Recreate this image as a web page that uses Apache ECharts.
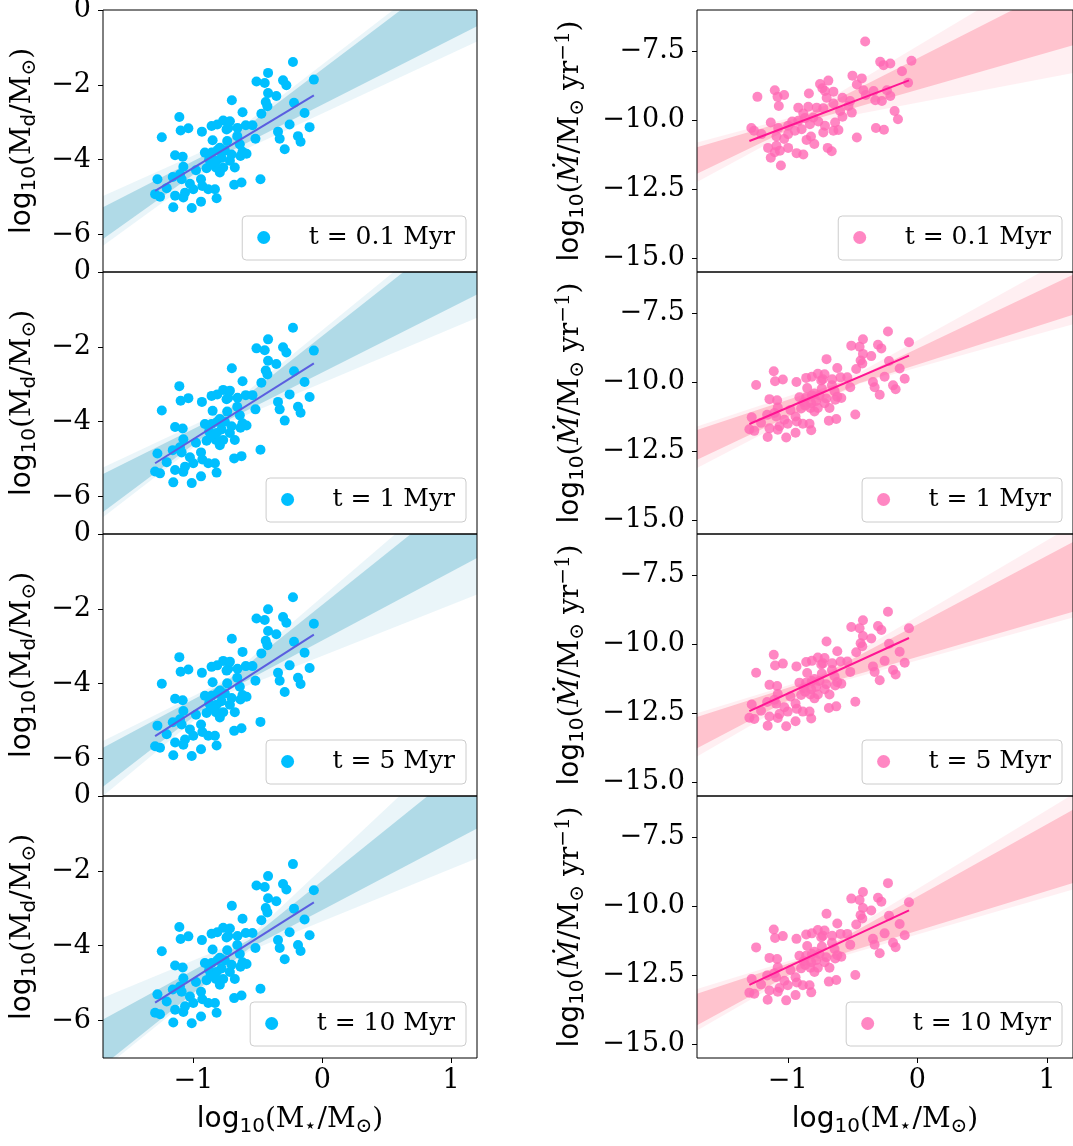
<!DOCTYPE html>
<html>
<head>
<meta charset="utf-8">
<script src="https://cdn.jsdelivr.net/npm/echarts@6/dist/echarts.min.js"></script>
<style>
  html, body { margin: 0; padding: 0; background: #ffffff; }
  #chart { width: 1073px; height: 1146px; }
</style>
</head>
<body>
<div id="chart"></div>
<script>
// ---- Sample: log10 stellar mass of each star (shared by the disk-mass panels and the t >= 1 Myr accretion panels)
const logMstar = [
  -0.227,-0.420,-0.510,-0.446,-0.304,-0.278,-0.065,-0.420,-0.356,-0.438,
  -0.425,-0.219,-0.701,-0.618,-0.472,-0.137,-1.108,-0.768,-0.716,-0.814,
  -0.858,-0.729,-0.657,-0.593,-0.541,-0.253,-0.098,-1.038,-1.098,-0.933,
  -1.244,-0.343,-0.330,-0.188,-0.168,-0.518,-0.659,-0.850,-0.737,-0.639,
  -0.291,-0.794,-0.910,-0.858,-0.755,-0.703,-0.587,-0.634,-1.141,-1.082,
  -0.877,-0.819,-0.716,-1.077,-0.897,-0.825,-0.768,-0.678,-0.979,-1.159,
  -1.090,-1.278,-0.940,-0.479,-0.626,-0.683,-1.026,-0.930,-1.206,-1.000,
  -0.884,-0.832,-1.064,-1.296,-1.141,-1.258,-1.077,-0.819,-0.940,-1.155,
  -1.012,-0.814,-0.781,-0.866,-1.103,-0.794,-0.742,-0.618
];

// ---- log10 disk mass at each epoch
const logMdisk_t01 = [
  -1.39,-1.68,-1.91,-1.95,-1.88,-2.01,-1.86,-2.22,-2.30,-2.46,
  -2.57,-2.48,-2.41,-2.73,-2.77,-2.75,-2.86,-2.95,-2.97,-3.06,
  -3.10,-3.15,-3.15,-3.08,-3.08,-3.06,-3.13,-3.16,-3.22,-3.25,
  -3.40,-3.25,-3.44,-3.37,-3.52,-3.44,-3.37,-3.48,-3.50,-3.59,
  -3.72,-3.68,-3.81,-3.81,-3.75,-3.86,-3.84,-3.90,-3.88,-3.92,
  -3.99,-4.03,-4.03,-4.19,-4.23,-4.21,-4.21,-4.21,-4.28,-4.46,
  -4.52,-4.52,-4.52,-4.52,-4.61,-4.67,-4.64,-4.70,-4.76,-4.79,
  -4.79,-4.79,-4.88,-4.92,-4.96,-4.99,-5.01,-5.03,-5.12,-5.27,
  -5.29,-3.75,-3.95,-4.12,-4.39,-4.34,-3.19,-3.79
];
const logMdisk_t1 = [
  -1.49,-1.80,-2.04,-2.09,-2.01,-2.15,-2.10,-2.37,-2.46,-2.63,
  -2.74,-2.65,-2.57,-2.92,-2.96,-2.94,-3.05,-3.15,-3.17,-3.27,
  -3.31,-3.36,-3.36,-3.29,-3.29,-3.27,-3.34,-3.37,-3.44,-3.47,
  -3.70,-3.47,-3.67,-3.60,-3.76,-3.67,-3.60,-3.71,-3.73,-3.83,
  -3.97,-3.93,-4.06,-4.06,-4.00,-4.12,-4.10,-4.16,-4.14,-4.18,
  -4.26,-4.30,-4.30,-4.47,-4.51,-4.49,-4.49,-4.49,-4.56,-4.76,
  -4.82,-4.85,-4.82,-4.75,-4.92,-4.98,-4.95,-5.01,-5.08,-5.11,
  -5.11,-5.11,-5.20,-5.33,-5.29,-5.38,-5.34,-5.36,-5.46,-5.62,
  -5.64,-4.00,-4.21,-4.39,-4.68,-4.63,-3.40,-4.04
];
const logMdisk_t5 = [
  -1.69,-2.01,-2.26,-2.30,-2.22,-2.37,-2.40,-2.59,-2.68,-2.85,
  -2.97,-2.88,-2.80,-3.15,-3.19,-3.17,-3.29,-3.39,-3.41,-3.51,
  -3.55,-3.60,-3.60,-3.53,-3.53,-3.51,-3.58,-3.62,-3.68,-3.71,
  -4.00,-3.71,-3.92,-3.84,-4.01,-3.92,-3.84,-3.96,-3.99,-4.08,
  -4.22,-4.18,-4.32,-4.32,-4.26,-4.38,-4.35,-4.42,-4.40,-4.44,
  -4.52,-4.56,-4.56,-4.73,-4.78,-4.76,-4.76,-4.76,-4.83,-5.03,
  -5.09,-5.12,-5.09,-5.02,-5.19,-5.26,-5.22,-5.29,-5.35,-5.39,
  -5.39,-5.39,-5.49,-5.67,-5.57,-5.71,-5.63,-5.65,-5.75,-5.91,
  -5.93,-4.26,-4.47,-4.66,-4.95,-4.90,-3.65,-4.30
];
const logMdisk_t10 = [
  -1.82,-2.14,-2.39,-2.43,-2.35,-2.50,-2.52,-2.73,-2.81,-2.99,
  -3.11,-3.01,-2.93,-3.28,-3.32,-3.30,-3.50,-3.52,-3.54,-3.64,
  -3.68,-3.74,-3.74,-3.66,-3.66,-3.64,-3.72,-3.75,-3.82,-3.85,
  -4.15,-3.85,-4.06,-3.98,-4.14,-4.06,-3.98,-4.10,-4.12,-4.22,
  -4.36,-4.32,-4.46,-4.46,-4.39,-4.51,-4.49,-4.56,-4.53,-4.58,
  -4.65,-4.70,-4.70,-4.87,-4.92,-4.89,-4.89,-4.89,-4.97,-5.17,
  -5.23,-5.30,-5.23,-5.15,-5.33,-5.40,-5.36,-5.43,-5.49,-5.53,
  -5.53,-5.53,-5.62,-5.79,-5.71,-5.83,-5.77,-5.79,-5.89,-6.05,
  -6.07,-4.39,-4.61,-4.80,-5.09,-5.04,-3.78,-4.44
];

// ---- log10 accretion rate; the 0.1 Myr epoch has its own star list
const logMstar_acc01 = [
  -0.403,-0.287,-0.261,-0.209,-0.046,-0.119,-0.501,-0.429,-0.467,-0.687,
  -0.751,-0.733,-0.713,-0.648,-0.837,-1.100,-1.028,-1.234,-1.079,-1.069,
  -0.072,-0.416,-0.398,-0.338,-0.325,-0.274,-0.209,-0.235,-0.700,-0.777,
  -0.842,-0.919,-0.880,-0.648,-0.578,-0.519,-0.532,-0.596,-0.506,-0.726,
  -0.803,-0.868,-0.919,-0.966,-1.131,-1.281,-1.260,-1.203,-1.074,-0.997,
  -0.829,-0.764,-0.713,-0.635,-0.578,-0.648,-0.609,-0.726,-0.176,-0.150,
  -0.320,-0.258,-0.467,-1.087,-1.028,-0.997,-0.821,-0.855,-0.795,-1.087,
  -1.152,-1.061,-0.997,-1.100,-1.131,-0.932,-0.880,-0.692,-0.661,-1.053,
  -0.893,-0.945
];
const logMacc_t01 = [
  -7.14,-7.88,-8.00,-7.94,-7.84,-8.22,-8.38,-8.48,-8.70,-8.56,
  -8.68,-8.84,-8.94,-8.96,-9.03,-8.91,-9.08,-9.15,-9.15,-9.48,
  -8.64,-8.91,-9.08,-8.94,-9.27,-9.30,-9.12,-8.91,-9.18,-9.54,
  -9.51,-9.54,-9.75,-9.39,-9.18,-9.30,-9.48,-9.66,-9.72,-9.56,
  -9.90,-9.92,-10.02,-10.04,-10.08,-10.28,-10.38,-10.50,-10.28,-10.20,
  -10.14,-10.04,-10.20,-10.08,-9.87,-10.38,-10.35,-10.44,-9.66,-9.96,
  -10.28,-10.34,-10.62,-10.59,-10.68,-10.50,-10.59,-10.71,-10.86,-10.92,
  -11.00,-11.10,-11.00,-11.16,-11.36,-11.19,-11.24,-11.00,-11.12,-11.64,
  -10.32,-10.38
];
const logMacc_t1 = [
  -8.16,-8.44,-8.67,-8.71,-8.64,-8.77,-8.55,-8.97,-9.05,-9.21,
  -9.32,-9.23,-9.16,-9.48,-9.52,-9.50,-9.60,-9.69,-9.71,-9.80,
  -9.84,-9.89,-9.89,-9.82,-9.82,-9.80,-9.87,-9.90,-9.96,-9.99,
  -10.10,-9.99,-10.18,-10.11,-10.25,-10.18,-10.11,-10.21,-10.23,-10.32,
  -10.45,-10.41,-10.54,-10.54,-10.48,-10.59,-10.57,-10.63,-10.61,-10.65,
  -10.72,-10.76,-10.76,-10.91,-10.95,-10.93,-10.93,-10.93,-11.00,-11.18,
  -11.24,-11.27,-11.24,-11.17,-11.33,-11.39,-11.36,-11.42,-11.47,-11.50,
  -11.50,-11.50,-11.59,-11.70,-11.67,-11.76,-11.72,-11.74,-11.83,-11.98,
  -12.00,-10.48,-10.68,-10.84,-11.11,-11.06,-9.93,-10.52
];
const logMacc_t5 = [
  -8.82,-9.13,-9.37,-9.42,-9.34,-9.48,-9.42,-9.70,-9.79,-9.96,
  -10.07,-9.98,-9.90,-10.25,-10.29,-10.27,-10.38,-10.48,-10.50,-10.60,
  -10.64,-10.69,-10.69,-10.62,-10.62,-10.60,-10.67,-10.70,-10.77,-10.80,
  -11.03,-10.80,-11.00,-10.93,-11.09,-11.00,-10.93,-11.04,-11.06,-11.16,
  -11.30,-11.26,-11.39,-11.39,-11.33,-11.45,-11.43,-11.49,-11.47,-11.51,
  -11.59,-11.63,-11.63,-11.80,-11.84,-11.82,-11.82,-11.82,-11.89,-12.09,
  -12.15,-12.18,-12.15,-12.08,-12.25,-12.31,-12.28,-12.34,-12.41,-12.44,
  -12.44,-12.44,-12.53,-12.66,-12.62,-12.71,-12.67,-12.69,-12.79,-12.95,
  -12.97,-11.33,-11.54,-11.72,-12.01,-11.96,-10.73,-11.37
];
const logMacc_t10 = [
  -9.16,-9.48,-9.72,-9.77,-9.69,-9.83,-9.85,-10.06,-10.15,-10.32,
  -10.44,-10.34,-10.27,-10.62,-10.66,-10.64,-10.84,-10.86,-10.88,-10.98,
  -11.02,-11.07,-11.07,-11.00,-11.00,-10.98,-11.05,-11.08,-11.15,-11.18,
  -11.49,-11.18,-11.39,-11.32,-11.48,-11.39,-11.32,-11.44,-11.46,-11.55,
  -11.70,-11.65,-11.79,-11.79,-11.73,-11.85,-11.83,-11.89,-11.87,-11.91,
  -11.99,-12.03,-12.03,-12.21,-12.25,-12.23,-12.23,-12.23,-12.31,-12.51,
  -12.57,-12.64,-12.57,-12.49,-12.67,-12.73,-12.70,-12.76,-12.83,-12.86,
  -12.86,-12.86,-12.96,-13.13,-13.05,-13.17,-13.10,-13.12,-13.22,-13.39,
  -13.41,-11.73,-11.95,-12.13,-12.43,-12.38,-11.12,-11.77
];

// ---- best-fit relations, as [log M*, value] end points
const fitMdisk_t01 = [[-1.296, -4.83], [-0.065, -2.28]];
const fitMdisk_t1  = [[-1.296, -5.11], [-0.065, -2.44]];
const fitMdisk_t5  = [[-1.296, -5.40], [-0.065, -2.69]];
const fitMdisk_t10 = [[-1.296, -5.52], [-0.065, -2.84]];
const fitMacc_t01  = [[-1.296, -10.75], [-0.065, -8.55]];
const fitMacc_t1   = [[-1.296, -11.51], [-0.065, -9.03]];
const fitMacc_t5   = [[-1.296, -12.42], [-0.065, -9.77]];
const fitMacc_t10  = [[-1.296, -12.85], [-0.065, -10.15]];

// ---- posterior spread of the relation: dense core outline and faint outer outline
const bandMdisk_t01 = [[-1.7,-5.27],[-0.82,-3.72],[1.3,1.80],[1.3,-0.26],[-0.82,-3.96],[-1.7,-6.12]];
const bandMdisk_t1  = [[-1.7,-5.40],[-0.77,-3.80],[1.3,1.82],[1.3,-0.43],[-0.77,-4.02],[-1.7,-6.41]];
const bandMdisk_t5  = [[-1.7,-5.71],[-0.75,-3.96],[1.3,1.69],[1.3,-0.46],[-0.75,-4.22],[-1.7,-6.75]];
const bandMdisk_t10 = [[-1.7,-5.97],[-0.57,-3.85],[1.3,1.34],[1.3,-0.69],[-0.57,-4.08],[-1.7,-7.20]];
const bandMacc_t01  = [[-1.7,-10.98],[-0.88,-9.85],[1.3,-4.65],[1.3,-7.14],[-0.88,-10.08],[-1.7,-11.94]];
const bandMacc_t1   = [[-1.7,-11.73],[-0.45,-9.78],[1.3,-5.88],[1.3,-7.40],[-0.45,-10.03],[-1.7,-12.81]];
const bandMacc_t5   = [[-1.7,-12.64],[-0.80,-11.28],[1.3,-6.04],[1.3,-8.68],[-0.80,-11.55],[-1.7,-13.77]];
const bandMacc_t10  = [[-1.7,-13.17],[-0.83,-11.82],[1.3,-6.24],[1.3,-9.01],[-0.83,-12.08],[-1.7,-14.31]];

const fringeMdisk_t01 = [[-1.7,-4.97],[-0.80,-3.58],[1.3,1.99],[1.3,-0.68],[-0.80,-4.05],[-1.7,-6.30]];
const fringeMdisk_t1  = [[-1.7,-5.22],[-0.77,-3.72],[1.3,2.10],[1.3,-1.08],[-0.77,-4.08],[-1.7,-6.55]];
const fringeMdisk_t5  = [[-1.7,-5.53],[-0.75,-3.90],[1.3,2.17],[1.3,-1.48],[-0.75,-4.28],[-1.7,-7.00]];
const fringeMdisk_t10 = [[-1.7,-5.39],[-0.57,-3.78],[1.3,2.27],[1.3,-1.52],[-0.57,-4.15],[-1.7,-7.30]];
const fringeMacc_t01  = [[-1.7,-10.80],[-0.88,-9.78],[1.3,-3.66],[1.3,-8.19],[-0.88,-10.15],[-1.7,-12.24]];
const fringeMacc_t1   = [[-1.7,-11.60],[-0.45,-9.65],[1.3,-5.10],[1.3,-7.76],[-0.45,-10.05],[-1.7,-13.11]];
const fringeMacc_t5   = [[-1.7,-12.50],[-0.80,-11.20],[1.3,-5.40],[1.3,-8.90],[-0.80,-11.62],[-1.7,-14.07]];
const fringeMacc_t10  = [[-1.7,-13.00],[-0.83,-11.75],[1.3,-5.65],[1.3,-9.25],[-0.83,-12.15],[-1.7,-14.50]];

// ---- labels and ticks
const timeLabels = ['t = 0.1 Myr', 't = 1 Myr', 't = 5 Myr', 't = 10 Myr'];
const xTicks = [-1, 0, 1];
const mdiskTicks = [0, -2, -4, -6];
const maccTicks = [-7.5, -10, -12.5, -15];

// ---- page layout (pixels)
const colLeft = [103, 697];
const colWidth = [374, 376];
const rowTop = [10, 272, 534, 796];
const rowHeight = 262;
const legendRight = [607, 11];
const legendTop = [216, 478, 740, 1002];

const serif = 'DejaVu Serif';
const sans = 'DejaVu Sans';

const nameRich = {
  s:    { fontFamily: sans,  fontSize: 28, lineHeight: 36, color: '#000', verticalAlign: 'middle' },
  r:    { fontFamily: serif, fontSize: 28, lineHeight: 36, color: '#000', verticalAlign: 'middle' },
  it:   { fontFamily: serif, fontSize: 28, lineHeight: 36, color: '#000', fontStyle: 'italic', verticalAlign: 'middle' },
  sub:  { fontFamily: sans,  fontSize: 20, lineHeight: 20, color: '#000', padding: [14, 0, 0, 0], verticalAlign: 'middle' },
  subr: { fontFamily: serif, fontSize: 20, lineHeight: 20, color: '#000', padding: [14, 0, 0, 0], verticalAlign: 'middle' },
  sup:  { fontFamily: serif, fontSize: 20, lineHeight: 20, color: '#000', padding: [0, 0, 14, 0], verticalAlign: 'middle' }
};
const xName = '{s|log}{sub|10}{r|(M}{subr|\u22C6}{r|/M}{subr|\u2299}{r|)}';
const mdiskName = '{s|log}{sub|10}{r|(M}{sub|d}{r|/M}{subr|\u2299}{r|)}';
const maccName = '{s|log}{sub|10}{r|(}{it|\u1E40}{r|/M}{subr|\u2299}{r| yr}{sup|\u22121}{r|)}';

function tickText(decimals) {
  return function (v) {
    if (v === 0) return '0';
    return (v < 0 ? '\u2212' : '') + Math.abs(v).toFixed(decimals);
  };
}

const panels = [
  { col: 0, xs: logMstar, ys: logMdisk_t01, fit: fitMdisk_t01, band: bandMdisk_t01, fringe: fringeMdisk_t01 },
  { col: 0, xs: logMstar, ys: logMdisk_t1,  fit: fitMdisk_t1,  band: bandMdisk_t1,  fringe: fringeMdisk_t1 },
  { col: 0, xs: logMstar, ys: logMdisk_t5,  fit: fitMdisk_t5,  band: bandMdisk_t5,  fringe: fringeMdisk_t5 },
  { col: 0, xs: logMstar, ys: logMdisk_t10, fit: fitMdisk_t10, band: bandMdisk_t10, fringe: fringeMdisk_t10 },
  { col: 1, xs: logMstar_acc01, ys: logMacc_t01, fit: fitMacc_t01, band: bandMacc_t01, fringe: fringeMacc_t01 },
  { col: 1, xs: logMstar, ys: logMacc_t1,  fit: fitMacc_t1,  band: bandMacc_t1,  fringe: fringeMacc_t1 },
  { col: 1, xs: logMstar, ys: logMacc_t5,  fit: fitMacc_t5,  band: bandMacc_t5,  fringe: fringeMacc_t5 },
  { col: 1, xs: logMstar, ys: logMacc_t10, fit: fitMacc_t10, band: bandMacc_t10, fringe: fringeMacc_t10 }
];

const style = [
  { point: '#00BFFF', pointOpacity: 1.0, fit: '#5a5ee0', band: '#ADD8E6', yMin: -7, yMax: 0,
    ticks: mdiskTicks, decimals: 0, name: mdiskName, nameGap: 62, prefix: 'disk ' },
  { point: '#FF69B4', pointOpacity: 0.8, fit: '#FF1493', band: '#FFC0CB', yMin: -15.5, yMax: -6.0,
    ticks: maccTicks, decimals: 1, name: maccName, nameGap: 108, prefix: 'acc ' }
];

function polygonSeries(verts, idx, color, opacity, z) {
  return {
    type: 'custom',
    xAxisIndex: idx, yAxisIndex: idx,
    clip: true, silent: true, z: z,
    data: verts,
    encode: { x: 0, y: 1 },
    renderItem: function (params, api) {
      if (params.dataIndex !== 0) return null;
      return {
        type: 'polygon',
        shape: { points: verts.map(function (v) { return api.coord(v); }) },
        style: { fill: color, opacity: opacity, stroke: null }
      };
    }
  };
}

const grids = [], xAxes = [], yAxes = [], series = [], legends = [];

panels.forEach(function (p, i) {
  const row = i % 4;
  const st = style[p.col];
  const bottomRow = row === 3;
  const seriesName = st.prefix + timeLabels[row];

  grids.push({
    left: colLeft[p.col], top: rowTop[row], width: colWidth[p.col], height: rowHeight,
    show: true, borderColor: '#000', borderWidth: 1, backgroundColor: 'transparent',
    containLabel: false, outerBoundsMode: 'none', z: 10
  });

  xAxes.push({
    gridIndex: i, type: 'value', min: -1.7, max: 1.2, position: 'bottom',
    axisLine: { show: false, onZero: false }, splitLine: { show: false },
    axisTick: { show: bottomRow, customValues: xTicks, length: 5, lineStyle: { color: '#000', width: 1 } },
    axisLabel: { show: bottomRow, customValues: xTicks, formatter: tickText(0),
      fontFamily: serif, fontSize: 27, color: '#000', margin: 9 },
    name: bottomRow ? xName : '', nameLocation: 'middle', nameGap: 44,
    nameTextStyle: { rich: nameRich }
  });

  yAxes.push({
    gridIndex: i, type: 'value', min: st.yMin, max: st.yMax, position: 'left',
    axisLine: { show: false, onZero: false }, splitLine: { show: false },
    axisTick: { show: true, customValues: st.ticks, length: 5, lineStyle: { color: '#000', width: 1 } },
    axisLabel: { customValues: st.ticks, formatter: tickText(st.decimals),
      fontFamily: serif, fontSize: 27, color: '#000', margin: 12 },
    name: st.name, nameLocation: 'middle', nameRotate: 90, nameGap: st.nameGap,
    nameTextStyle: { rich: nameRich }
  });

  series.push(polygonSeries(p.fringe, i, st.band, 0.25, 1));
  series.push(polygonSeries(p.band, i, st.band, 0.95, 2));
  series.push({
    type: 'scatter', name: seriesName, xAxisIndex: i, yAxisIndex: i, silent: true, z: 3,
    data: p.xs.map(function (x, k) { return [x, p.ys[k]]; }),
    symbol: 'circle', symbolSize: 10,
    itemStyle: { color: st.point, opacity: st.pointOpacity }
  });
  series.push({
    type: 'line', xAxisIndex: i, yAxisIndex: i, silent: true, z: 4,
    data: p.fit, symbol: 'none', showSymbol: false,
    lineStyle: { color: st.fit, width: 2 }
  });

  legends.push({
    data: [seriesName], selectedMode: false,
    right: legendRight[p.col], top: legendTop[row],
    orient: 'horizontal', icon: 'circle', itemWidth: 40, itemHeight: 13,
    padding: [9, 11, 10, 15],
    backgroundColor: 'rgba(255,255,255,0.8)', borderColor: '#cccccc', borderWidth: 1, borderRadius: 4,
    textStyle: { fontFamily: serif, fontSize: 25, color: '#000', padding: [0, 0, 0, 20] },
    formatter: function (n) { return n.replace(/^(disk|acc) /, ''); }
  });
});

const chart = echarts.init(document.getElementById('chart'), null, { renderer: 'canvas', width: 1073, height: 1146 });
chart.setOption({
  animation: false,
  backgroundColor: '#ffffff',
  grid: grids,
  xAxis: xAxes,
  yAxis: yAxes,
  legend: legends,
  series: series
});
</script>
</body>
</html>
